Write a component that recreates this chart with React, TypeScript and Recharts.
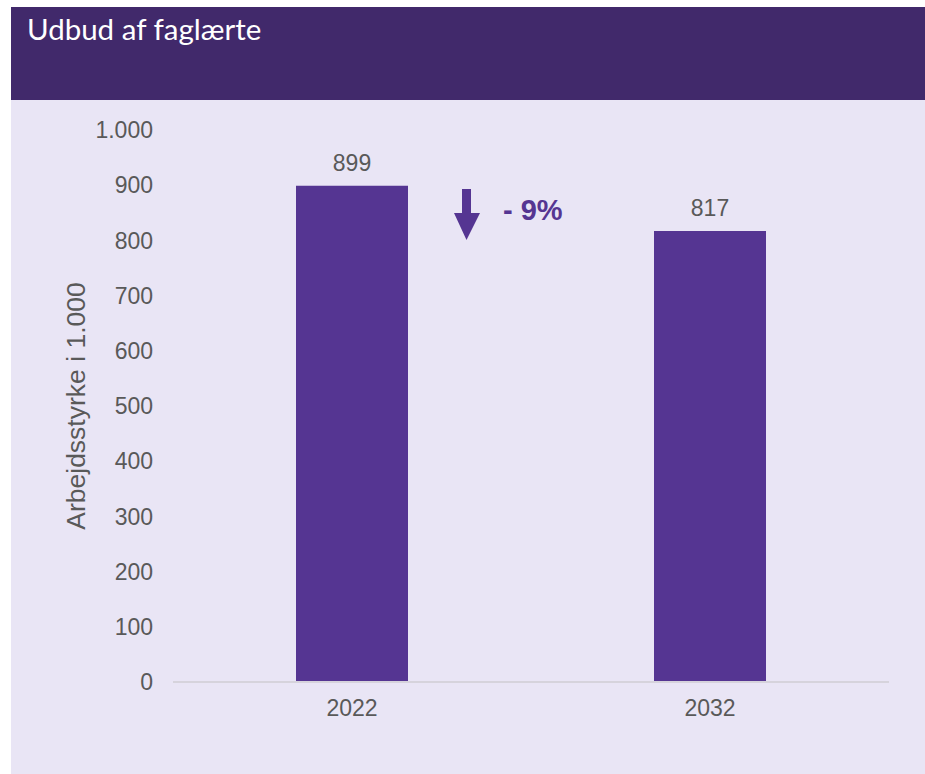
import React from 'react';
import { BarChart, Bar, XAxis, YAxis, LabelList, Label } from 'recharts';

const years = ['2022', '2032'];
const supply = [899, 817];
const yTicks = [0, 100, 200, 300, 400, 500, 600, 700, 800, 900, 1000];
const changeLabel = '- 9%';

const data = years.map((year, i) => ({ year, value: supply[i] }));

const PURPLE = '#553592';
const HEADER = '#41296b';
const PANEL = '#e9e5f5';
const TEXT = '#595959';
const FONT = '"Liberation Sans", Arial, sans-serif';

// tusindtals-separator med punktum
const fmt = (v: number) => (v >= 1000 ? `${Math.floor(v / 1000)}.${String(v % 1000).padStart(3, '0')}` : String(v));

const YLabel = (props: any) => {
  const vb = props.viewBox || {};
  const x = vb.x + 74;
  const y = vb.y + vb.height / 2;
  return (
    <text
      x={x}
      y={y}
      transform={`rotate(-90, ${x}, ${y})`}
      textAnchor="middle"
      fill={TEXT}
      fontSize={26.5}
      fontFamily={FONT}
    >
      Arbejdsstyrke i 1.000
    </text>
  );
};

export default function App() {
  return (
    <div style={{ position: 'absolute', left: 11, top: 7, width: 914, height: 767 }}>
      <div
        style={{
          height: 93,
          background: HEADER,
          color: '#fff',
          fontFamily: 'Lato, "Open Sans", sans-serif',
          fontSize: 29.5,
          lineHeight: '44px',
          paddingLeft: 16,
          boxSizing: 'border-box',
        }}
      >
        Udbud af faglærte
      </div>
      <div style={{ position: 'relative', height: 674, background: PANEL }}>
        <BarChart width={914} height={674} data={data} margin={{ top: 30, right: 36, left: 0, bottom: 52 }}>
          <XAxis
            dataKey="year"
            height={40}
            tickLine={false}
            tickMargin={12}
            axisLine={{ stroke: '#d6d3dc', strokeWidth: 2 }}
            tick={{ fill: TEXT, fontSize: 23, fontFamily: FONT }}
          />
          <YAxis
            width={162}
            domain={[0, 1000]}
            ticks={yTicks}
            interval={0}
            tickFormatter={fmt}
            axisLine={false}
            tickLine={false}
            tickMargin={14}
            tick={{ fill: TEXT, fontSize: 23, fontFamily: FONT }}
          >
            <Label content={YLabel} />
          </YAxis>
          <Bar dataKey="value" fill={PURPLE} barSize={112} isAnimationActive={false}>
            <LabelList
              dataKey="value"
              position="top"
              offset={15}
              fill={TEXT}
              fontSize={23}
              fontFamily={FONT}
            />
          </Bar>
        </BarChart>
        <svg style={{ position: 'absolute', left: 0, top: 0 }} width={914} height={674} pointerEvents="none">
          <polygon points="451,89 460,89 460,113 469,113 455.5,140 443,113 451,113" fill={PURPLE} />
          <text x={492} y={110} dominantBaseline="central" fill={PURPLE} fontSize={29} fontWeight="bold" fontFamily={FONT}>
            {changeLabel}
          </text>
        </svg>
      </div>
    </div>
  );
}
